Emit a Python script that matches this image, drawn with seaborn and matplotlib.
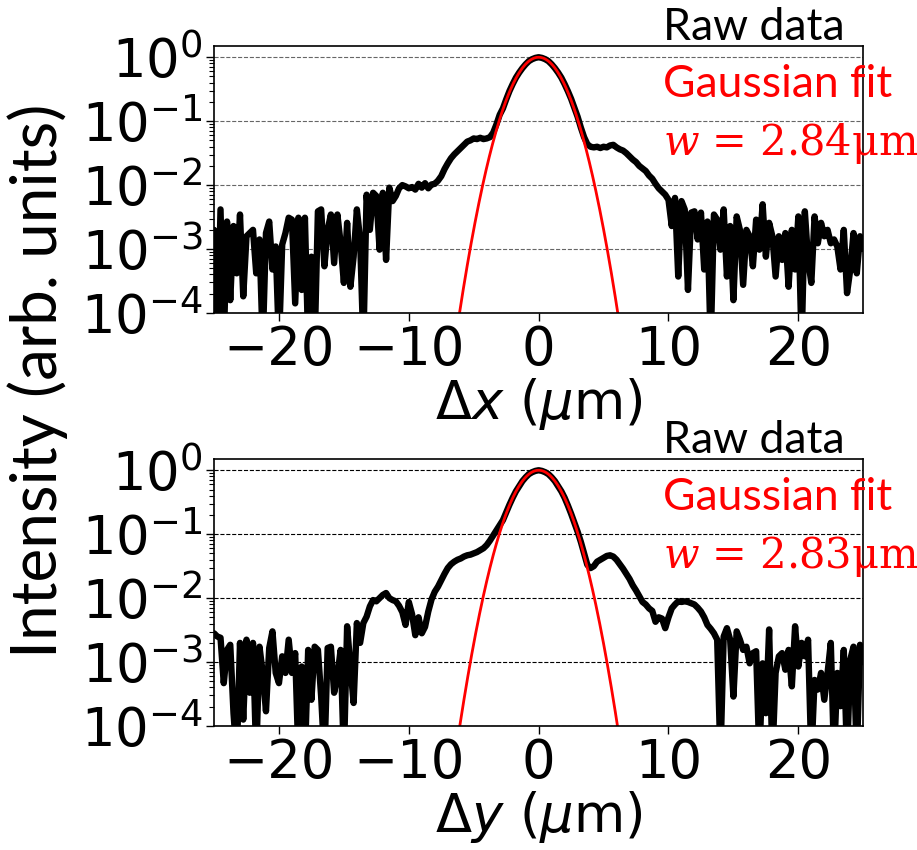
import numpy as np
import pandas as pd
import matplotlib
matplotlib.use("Agg")
import matplotlib.pyplot as plt
import matplotlib.ticker as mticker
import seaborn as sns

# beam profiles, log10 of normalised intensity, one sample every 0.25 um
pos_um = np.arange(-25, 25.001, 0.25)

log_int_x = [
    # -25 .. -10
    -2.70, -4.5, -2.38, -4.5, -2.57, -3.80, -2.64, -3.38, -2.46, -3.74,
    -2.80, -2.75, -2.70, -3.38, -2.85, -4.5, -2.75, -2.57, -3.32, -2.96,
    -4.5, -2.93, -2.75, -2.51, -2.54, -3.85, -2.51, -3.64, -2.51, -4.5,
    -3.12, -4.5, -2.41, -2.38, -3.27, -2.70, -2.46, -3.22, -2.46, -2.91,
    -3.53, -2.59, -3.59, -3.12, -2.38, -2.85, -4.5, -2.15, -2.70, -2.12,
    -2.17, -3.01, -2.12, -3.17, -2.04, -2.25, -2.17, -2.05, -2.00, -2.02,
    -2.05,
    # -9.75 .. -3
    -2.03, -2.07, -1.98, -2.04, -1.97, -2.05, -1.99, -1.98, -1.93, -1.86,
    -1.75, -1.66, -1.58, -1.52, -1.47, -1.42, -1.37, -1.32, -1.30, -1.27,
    -1.28, -1.26, -1.28, -1.27, -1.25, -1.18, -1.05, -0.90,
    # -2.75 .. 2.75
    -0.80, -0.66, -0.53, -0.42, -0.32, -0.24, -0.17, -0.11, -0.06, -0.03,
    -0.01, 0.0, -0.01, -0.03, -0.06, -0.11, -0.17, -0.24, -0.32, -0.42,
    -0.53, -0.65, -0.79,
    # 3 .. 9.75
    -0.93, -1.10, -1.25, -1.36, -1.40, -1.41, -1.40, -1.42, -1.40, -1.41,
    -1.38, -1.37, -1.41, -1.44, -1.46, -1.50, -1.55, -1.60, -1.64, -1.70,
    -1.74, -1.78, -1.85, -1.90, -1.98, -2.05, -2.10, -2.15,
    # 10 .. 25
    -2.23, -2.64, -2.20, -3.43, -2.25, -2.38, -3.64, -2.43, -2.41, -2.85,
    -2.43, -3.32, -2.57, -4.5, -2.46, -2.54, -3.01, -2.38, -3.43, -2.64,
    -3.80, -2.49, -2.70, -3.56, -2.70, -2.80, -3.27, -2.54, -3.01, -2.30,
    -3.12, -2.59, -2.80, -3.43, -2.80, -3.17, -2.75, -3.59, -2.70, -3.32,
    -2.49, -4.5, -2.41, -3.17, -3.53, -2.49, -2.91, -2.59, -2.80, -2.70,
    -2.91, -2.85, -2.96, -3.32, -2.70, -3.69, -3.32, -2.75, -3.38, -2.80,
    -3.00,
]

log_int_y = [
    # -25 .. -11.25
    -2.55, -2.60, -2.62, -3.33, -2.81, -2.73, -3.80, -4.5, -2.70, -3.90,
    -2.65, -3.48, -2.70, -4.5, -2.76, -3.17, -3.77, -2.78, -2.52, -3.17,
    -3.33, -2.91, -3.17, -2.65, -3.17, -2.86, -4.5, -3.07, -4.5, -2.81,
    -3.59, -2.76, -2.81, -3.54, -4.5, -2.78, -2.76, -3.48, -3.22, -2.81,
    -4.5, -2.44, -3.07, -3.64, -2.39, -2.70, -2.39, -2.29, -2.13, -2.03,
    -2.05, -2.00, -1.95, -1.92, -2.00, -2.03,
    # -11 .. -3
    -2.05, -2.12, -2.22, -2.42, -2.06, -2.25, -2.58, -2.30, -2.55, -2.45,
    -2.21, -2.02, -1.90, -1.82, -1.72, -1.62, -1.53, -1.47, -1.43, -1.40,
    -1.38, -1.35, -1.33, -1.32, -1.30, -1.28, -1.25, -1.22, -1.17, -1.10,
    -1.02, -0.94, -0.86,
    # -2.75 .. 2.75
    -0.78, -0.66, -0.54, -0.43, -0.33, -0.25, -0.17, -0.11, -0.06, -0.03,
    -0.01, 0.0, -0.01, -0.03, -0.06, -0.11, -0.17, -0.25, -0.33, -0.43,
    -0.55, -0.68, -0.82,
    # 3 .. 13.25
    -0.96, -1.12, -1.30, -1.48, -1.53, -1.50, -1.43, -1.40, -1.37, -1.34,
    -1.33, -1.35, -1.40, -1.47, -1.54, -1.62, -1.70, -1.80, -1.88, -1.97,
    -2.06, -2.10, -2.16, -2.20, -2.37, -2.30, -2.32, -2.47, -2.30, -2.16,
    -2.10, -2.05, -2.06, -2.05, -2.06, -2.08, -2.10, -2.15, -2.21, -2.30,
    -2.42, -2.48,
    # 13.5 .. 25
    -2.55, -2.65, -4.5, -2.60, -2.47, -2.65, -3.54, -2.52, -2.65, -2.81,
    -2.76, -3.02, -2.86, -2.83, -4.5, -3.02, -3.80, -2.49, -4.5, -3.17,
    -2.91, -2.86, -3.12, -2.81, -3.38, -2.44, -3.07, -2.70, -2.91, -2.65,
    -4.5, -3.28, -3.43, -3.17, -3.59, -3.17, -2.70, -4.5, -3.17, -3.69,
    -2.81, -4.5, -2.96, -2.76, -4.5, -2.73, -3.00,
]

# fitted 1/e^2 radii (um)
w_fit = {"x": 2.84, "y": 2.83}
axis_names = ["x", "y"]
x_ticks = [-20, -10, 0, 10, 20]
y_ticks = [1e-4, 1e-3, 1e-2, 1e-1, 1e0]

sns.set_style("ticks")
plt.rcParams["font.family"] = ["DejaVu Sans"]
plt.rcParams["mathtext.fontset"] = "dejavusans"
plt.rcParams["text.color"] = "k"
plt.rcParams["axes.labelcolor"] = "k"

fig = plt.figure(figsize=(9.17, 8.5), dpi=100)
ax_top = fig.add_axes([0.2334, 0.6318, 0.7080, 0.3141])
ax_bot = fig.add_axes([0.2334, 0.1459, 0.7080, 0.3141])

fit_x = np.linspace(-25, 25, 1001)
grid_cols = {"x": "0.4", "y": "k"}

for ax, name, logs in zip([ax_top, ax_bot], axis_names, [log_int_x, log_int_y]):
    df = pd.DataFrame({"pos": pos_um, "intensity": 10.0 ** np.array(logs)})
    w = w_fit[name]
    fit = pd.DataFrame({"pos": fit_x, "intensity": np.exp(-2 * fit_x ** 2 / w ** 2)})

    ax.set_yscale("log")
    sns.lineplot(data=df, x="pos", y="intensity", color="k", linewidth=4.6, ax=ax)
    sns.lineplot(data=fit, x="pos", y="intensity", color="red", linewidth=2, ax=ax)

    ax.set_xlim(-25, 25)
    ax.set_ylim(1e-4, 1.5)
    ax.set_xticks(x_ticks)
    ax.set_yticks(y_ticks)
    ax.yaxis.set_minor_locator(mticker.LogLocator(base=10, subs=np.arange(2, 10), numticks=20))
    ax.yaxis.set_minor_formatter(mticker.NullFormatter())
    ax.grid(axis="y", which="major", linestyle="--", color=grid_cols[name], linewidth=0.8)
    ax.tick_params(axis="both", which="major", labelsize=38, length=6, width=1,
                   colors="k", pad=2)
    ax.tick_params(axis="y", which="minor", length=3.5, width=0.8, colors="k")
    for sp in ax.spines.values():
        sp.set_linewidth(1.2)
        sp.set_color("k")
    ax.set_ylabel("")
    ax.set_xlabel(r"$\Delta %s$ ($\mu$m)" % name, fontsize=38, labelpad=0, color="k")

fig.text(0.041, 0.552, "Intensity (arb. units)", rotation=90, ha="center", va="center",
         fontsize=46, color="k", family=["Lato", "DejaVu Sans"])

for y0, name in zip([0.953, 0.467], axis_names):
    fig.text(0.723, y0, "Raw data", color="k", fontsize=32, family=["Lato"], va="baseline")
    fig.text(0.723, y0 - 0.067, "Gaussian fit", color="red", fontsize=32,
             family=["Lato"], va="baseline")
    fig.text(0.723, y0 - 0.135, r"$w$ = %.2fμm" % w_fit[name], color="red", fontsize=30,
             family=["DejaVu Serif"], va="baseline",
             math_fontfamily="dejavuserif")

fig.savefig("out.png", dpi=100)
